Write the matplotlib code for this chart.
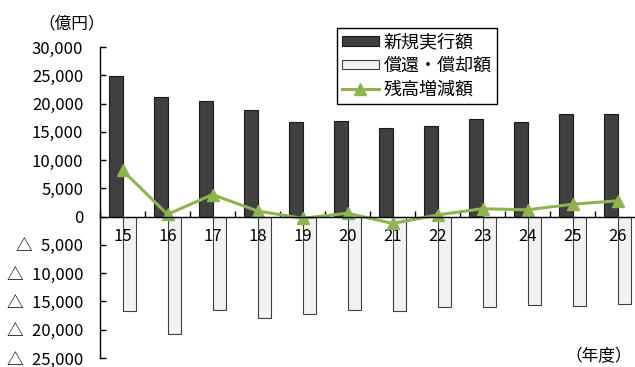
import matplotlib
matplotlib.use("Agg")
import matplotlib.pyplot as plt
import numpy as np

plt.rcParams['font.family'] = ['Noto Sans CJK JP', 'DejaVu Sans']

# データ（億円）
nendo = ["15", "16", "17", "18", "19", "20", "21", "22", "23", "24", "25", "26"]
shinki = [24900, 21200, 20400, 18900, 16800, 17000, 15600, 16100, 17300, 16800, 18100, 18200]
shokan = [-16700, -20800, -16500, -17900, -17200, -16500, -16700, -15900, -16000, -15700, -15800, -15400]
zougen = [8200, 400, 3900, 1000, -300, 600, -1200, 300, 1400, 1200, 2200, 2800]
yticks = [-25000, -20000, -15000, -10000, -5000, 0, 5000, 10000, 15000, 20000, 25000, 30000]

def fmt(v):
    if v < 0:
        return "△\u2002" + format(-v, ",")
    return format(v, ",")

fig = plt.figure(figsize=(6.35, 3.67), dpi=100)
ax = fig.add_axes([100/635, 9/367, 540/635, 311/367])

x = np.arange(len(nendo))
w = 0.29
b1 = ax.bar(x - w/2, shinki, w, color="#404040", edgecolor="#1a1a1a", linewidth=0.8)
b2 = ax.bar(x + w/2, shokan, w, color="#f2f2f2", edgecolor="#404040", linewidth=0.8)
l1, = ax.plot(x, zougen, color="#8fb350", linewidth=2.2, marker="^", markersize=9)

ax.set_xlim(-0.5, len(nendo) - 0.5)
ax.set_ylim(-25000, 30000)
ax.set_yticks(yticks)
ax.set_yticklabels([fmt(v) for v in yticks], fontsize=12)
ax.tick_params(axis="y", direction="in", length=4, width=1, pad=12)

# x軸は0の位置
ax.spines["bottom"].set_position(("data", 0))
ax.spines["top"].set_visible(False)
ax.spines["right"].set_visible(False)
ax.spines["left"].set_linewidth(1)
ax.spines["bottom"].set_linewidth(1)
ax.set_xticks(x)
ax.set_xticklabels(nendo, fontsize=12)
ax.tick_params(axis="x", which="major", length=0, pad=8)
ax.set_xticks(np.arange(len(nendo) + 1) - 0.5, minor=True)
ax.tick_params(axis="x", which="minor", direction="in", length=4, width=1)

fig.text(38/635, 1 - 24/367, "（億円）", fontsize=12, va="center", ha="left")
fig.text(565/635, 1 - 357/367, "（年度）", fontsize=12, va="center", ha="left")

leg = ax.legend([b1, b2, l1], ["新規実行額", "償還・償却額", "残高増減額"],
                loc="upper left", bbox_to_anchor=(337/635, 1 - 28/367), bbox_transform=fig.transFigure,
                fontsize=13, frameon=True, fancybox=False, edgecolor="black", framealpha=1,
                handlelength=2.0, handleheight=0.45, labelspacing=0.3, borderpad=0.3, handletextpad=0.3,
                borderaxespad=0)
leg.get_frame().set_linewidth(1)

fig.savefig("out.png", dpi=100)
